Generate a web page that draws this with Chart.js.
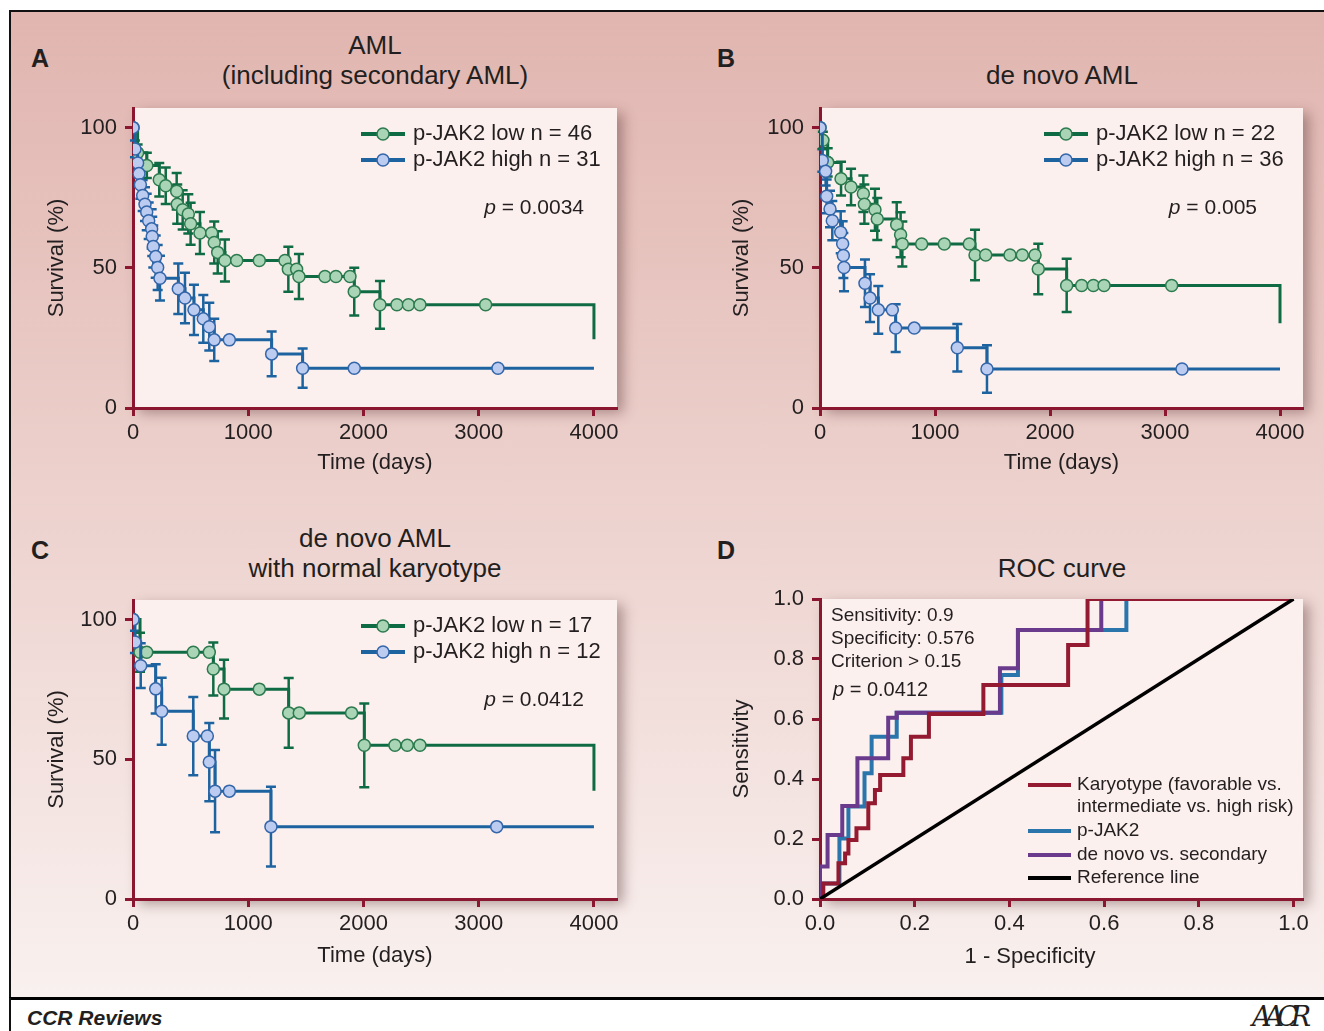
<!DOCTYPE html>
<html>
<head>
<meta charset="utf-8">
<script src="https://cdn.jsdelivr.net/npm/chart.js@4.4.1/dist/chart.umd.min.js"></script>
<style>
  html, body { margin: 0; padding: 0; background: #fff; overflow: hidden; }
  #fig { position: relative; width: 1324px; height: 1031px; overflow: hidden;
         font-family: 'Liberation Sans', Arial, sans-serif; color: #231f20; }
  #frame { position: absolute; left: 9px; top: 10px; width: 1340px; height: 987px;
           border-top: 2px solid #111; border-left: 2px solid #111;
           background: linear-gradient(to bottom, #e1b5b0 0%, #e8c6c1 30%, #eed5d1 55%, #f9f1ef 100%); }
  #footline { position: absolute; left: 9px; top: 997px; width: 1330px; height: 3px; background: #000; }
  #footleft { position: absolute; left: 9px; top: 998px; width: 2px; height: 40px; background: #111; }
  .cv { position: absolute; }
  .title { position: absolute; text-align: center; font-size: 26px; line-height: 30px; white-space: nowrap; }
  .letter { position: absolute; font-size: 25px; font-weight: bold; line-height: 28px; }
  #ccr { position: absolute; left: 27px; top: 1006px; font-size: 21px; line-height: 24px;
         font-weight: bold; font-style: italic; }
  #aacr { position: absolute; left: 1252px; top: 1003px; font-family: 'DejaVu Serif', serif;
          font-style: italic; font-size: 27px; line-height: 28px; letter-spacing: -7px; }
  #dxt { position: absolute; left: 880px; top: 943px; width: 300px; text-align: center;
         font-size: 22px; line-height: 26px; }
</style>
</head>
<body>
<div id="fig">
  <div id="frame"></div>
  <div id="footline"></div>
  <div id="footleft"></div>

  <div class="letter" style="left:31px; top:44px">A</div>
  <div class="letter" style="left:717px; top:44px">B</div>
  <div class="letter" style="left:31px; top:536px">C</div>
  <div class="letter" style="left:717px; top:536px">D</div>

  <div class="title" style="left:125px; top:30px; width:500px">AML<br>(including secondary AML)</div>
  <div class="title" style="left:812px; top:60px; width:500px">de novo AML</div>
  <div class="title" style="left:125px; top:523px; width:500px">de novo AML<br>with normal karyotype</div>
  <div class="title" style="left:812px; top:553px; width:500px">ROC curve</div>

  <canvas id="chartA" class="cv" width="680" height="400" style="left:0px; top:96px"></canvas>
  <canvas id="chartB" class="cv" width="638" height="400" style="left:686px; top:96px"></canvas>
  <canvas id="chartC" class="cv" width="680" height="400" style="left:0px; top:588px"></canvas>
  <canvas id="chartD" class="cv" width="638" height="400" style="left:686px; top:588px"></canvas>

  <div id="dxt">1 - Specificity</div>
  <div id="ccr">CCR Reviews</div>
  <div id="aacr">AACR</div>
</div>

<script>
// ---- data ----
// tick values
const kmXTicks = [0, 1000, 2000, 3000, 4000];
const kmYTicks = [0, 50, 100];
const rocTicks = [0, 0.2, 0.4, 0.6, 0.8, 1.0];

// A: AML incl. secondary (time in days, survival %, error half-width %)
const aLowT = [0, 40, 120, 228, 284, 379, 384, 431, 480, 500, 581, 683, 705, 735, 798, 900, 1096, 1319, 1348, 1420, 1440, 1666, 1761, 1883, 1920, 2143, 2290, 2390, 2490, 3060, 4000];
const aLowS = [100, 91, 86.5, 81.4, 79.3, 77.3, 72.7, 70.7, 69.2, 65.7, 62.4, 62.4, 59, 55.5, 52.6, 52.6, 52.6, 52.6, 49.5, 49.5, 46.9, 46.9, 46.9, 46.9, 41.5, 36.8, 36.8, 36.8, 36.8, 36.8, 24.5];
const aLowE = [0, 3, 4.5, 6, 6.5, 6.5, 7, 7, 7, 7.5, 7.5, 0, 7.5, 7.5, 7.5, 0, 0, 0, 8, 0, 8, 0, 0, 0, 8.5, 8.5, 0, 0, 0, 0, 0];
const aHighT = [0, 17, 40, 52, 64, 84, 104, 119, 136, 162, 167, 176, 197, 214, 234, 393, 451, 529, 610, 662, 705, 836, 1203, 1472, 1920, 3167, 4000];
const aHighS = [100, 92.4, 87.4, 83.6, 79.6, 75.8, 72.7, 69.9, 66.8, 63.9, 61.2, 57.6, 54.0, 50.1, 46.3, 42.5, 39.2, 35.0, 31.8, 29.0, 24.3, 24.3, 19.3, 14.2, 14.2, 14.2, 14.2];
const aHighE = [0, 3, 4, 4.5, 5, 5.5, 6, 6.5, 6.5, 7, 7, 7.5, 7.5, 8, 8, 9, 9, 9, 8.5, 8.5, 7.5, 0, 8, 7, 0, 0, 0];

// B: de novo AML
const bLowT = [0, 25, 67, 183, 270, 377, 386, 478, 498, 667, 701, 716, 884, 1081, 1298, 1348, 1441, 1652, 1759, 1870, 1898, 2145, 2275, 2377, 2470, 3058, 4000];
const bLowS = [100, 95.5, 87.6, 81.8, 78.8, 76.4, 72.7, 70.7, 67.4, 65.4, 61.8, 58.5, 58.5, 58.5, 58.5, 54.6, 54.6, 54.6, 54.6, 54.6, 49.6, 43.7, 43.7, 43.7, 43.7, 43.7, 30.2];
const bLowE = [0, 3, 5, 6, 6.5, 6.5, 7, 7.5, 7.5, 8, 8, 8, 0, 0, 0, 9, 0, 0, 0, 0, 9, 9.5, 0, 0, 0, 0, 0];
const bHighT = [0, 20, 49, 58, 87, 107, 180, 197, 203, 209, 391, 435, 507, 629, 658, 820, 1194, 1452, 3148, 4000];
const bHighS = [100, 88.3, 84.4, 75.5, 71.0, 66.8, 62.7, 58.6, 54.4, 50.1, 44.5, 39.2, 35.0, 35.0, 28.5, 28.5, 21.5, 13.9, 13.9, 13.9];
const bHighE = [0, 4, 5, 6, 6.5, 7, 7.5, 8, 8, 8.5, 8.5, 8.5, 8.5, 0, 8.5, 0, 8.5, 8.5, 0, 0];

// C: de novo AML with normal karyotype
const cLowT = [0, 61, 119, 523, 662, 697, 790, 1096, 1351, 1443, 1897, 2007, 2273, 2380, 2490, 4000];
const cLowS = [100, 88.3, 88.3, 88.3, 88.3, 82.3, 75.1, 75.1, 66.6, 66.6, 66.6, 55.0, 55.0, 55.0, 55.0, 38.7];
const cLowE = [0, 7, 0, 0, 0, 9.5, 10.5, 0, 12.5, 0, 0, 15, 0, 0, 0, 0];
const cHighT = [0, 17, 67, 197, 249, 523, 645, 662, 712, 836, 1197, 3156, 4000];
const cHighS = [100, 92, 83.5, 75.2, 67.2, 58.3, 58.3, 49.0, 38.6, 38.6, 25.9, 25.9, 25.9];
const cHighE = [0, 4, 8, 8.8, 12, 14, 0, 14, 14.7, 0, 14.3, 0, 0];

// D: ROC curves (1 - specificity, sensitivity)
const karyoX = [0, 0.007, 0.039, 0.053, 0.060, 0.077, 0.102, 0.116, 0.127, 0.176, 0.192, 0.230, 0.345, 0.524, 0.565, 1.0];
const karyoY = [0, 0.052, 0.119, 0.152, 0.197, 0.236, 0.319, 0.363, 0.413, 0.469, 0.541, 0.617, 0.713, 0.847, 1.0, 1.0];
const pjakX = [0, 0.002, 0.041, 0.060, 0.094, 0.109, 0.162, 0.383, 0.418, 0.647, 1.0];
const pjakY = [0, 0.052, 0.202, 0.308, 0.419, 0.541, 0.621, 0.747, 0.897, 1.0, 1.0];
const novoX = [0, 0, 0.016, 0.047, 0.079, 0.144, 0.162, 0.380, 0.418, 0.594, 1.0];
const novoY = [0, 0.108, 0.213, 0.310, 0.469, 0.604, 0.621, 0.769, 0.897, 1.0, 1.0];
const refX = [0, 1];
const refY = [0, 1];

// ---- styles ----
const FONT = "'Liberation Sans', Arial, sans-serif";
const TXT = '#231f20';
const AX = '#8a1630';
const GREEN = '#0f6b43', GREEN_FILL = '#a9d5b6', GREEN_EDGE = '#2c7a4e';
const BLUE = '#1d63a0', BLUE_FILL = '#bccbf0', BLUE_EDGE = '#3466aa';

Chart.defaults.font.family = FONT;
Chart.defaults.color = TXT;

const zip = (xs, ys) => xs.map((x, i) => ({ x: x, y: ys[i] }));

// light plot panel with a soft shadow
const plotBg = {
  id: 'plotBg',
  beforeDraw(chart) {
    const { ctx, chartArea: a } = chart;
    ctx.save();
    ctx.shadowColor = 'rgba(90,55,55,0.45)';
    ctx.shadowBlur = 12;
    ctx.shadowOffsetX = 6;
    ctx.shadowOffsetY = 5;
    ctx.fillStyle = '#fcf0ee';
    ctx.fillRect(a.left, a.top, a.right - a.left, a.bottom - a.top);
    ctx.restore();
  }
};

// vertical error bars with caps at event points
const errBars = {
  id: 'errBars',
  beforeDatasetsDraw(chart) {
    const { ctx, scales: { x, y } } = chart;
    chart.data.datasets.forEach(ds => {
      if (!ds.errors) return;
      ctx.save();
      ctx.strokeStyle = ds.borderColor;
      ctx.lineWidth = 2.5;
      ds.data.forEach((p, i) => {
        const e = ds.errors[i];
        if (!e) return;
        const px = x.getPixelForValue(p.x);
        const y1 = y.getPixelForValue(p.y + e);
        const y2 = y.getPixelForValue(p.y - e);
        ctx.beginPath();
        ctx.moveTo(px, y1); ctx.lineTo(px, y2);
        ctx.moveTo(px - 5, y1); ctx.lineTo(px + 5, y1);
        ctx.moveTo(px - 5, y2); ctx.lineTo(px + 5, y2);
        ctx.stroke();
      });
      ctx.restore();
    });
  }
};

// legend + annotation text inside the plot area
const notes = {
  id: 'notes',
  afterDraw(chart, args, o) {
    const { ctx, chartArea: a } = chart;
    ctx.save();
    ctx.textBaseline = 'middle';
    ctx.textAlign = 'left';
    (o.legend || []).forEach(it => {
      const y = a.top + it.y;
      if (it.ds !== undefined) {
        const ds = chart.data.datasets[it.ds];
        ctx.strokeStyle = ds.borderColor;
        ctx.lineWidth = o.lineWidth;
        ctx.beginPath();
        ctx.moveTo(a.left + o.x1, y);
        ctx.lineTo(a.left + o.x2, y);
        ctx.stroke();
        if (o.marker) {
          ctx.beginPath();
          ctx.arc(a.left + (o.x1 + o.x2) / 2, y, 6, 0, Math.PI * 2);
          ctx.fillStyle = ds.pointBackgroundColor;
          ctx.fill();
          ctx.lineWidth = 1.5;
          ctx.strokeStyle = ds.pointBorderColor;
          ctx.stroke();
        }
      }
      ctx.fillStyle = TXT;
      ctx.font = o.font;
      ctx.fillText(it.text, a.left + o.tx, y);
    });
    (o.texts || []).forEach(it => {
      const fonts = it.parts.map(p => (p.italic ? 'italic ' : '') + it.size + 'px ' + FONT);
      let w = 0;
      it.parts.forEach((p, i) => { ctx.font = fonts[i]; w += ctx.measureText(p.t).width; });
      let x = it.right !== undefined ? a.right - it.right - w : a.left + it.left;
      ctx.fillStyle = TXT;
      it.parts.forEach((p, i) => {
        ctx.font = fonts[i];
        ctx.fillText(p.t, x, a.top + it.y);
        x += ctx.measureText(p.t).width;
      });
    });
    ctx.restore();
  }
};

function axis(ticks, min, max, fmt, lay, horizontal, title) {
  const ax = {
    type: 'linear', min: min, max: max,
    border: { display: true, color: AX, width: 3 },
    grid: { drawOnChartArea: false, drawTicks: true, tickLength: 8, tickWidth: 3, tickColor: AX, color: AX },
    ticks: { font: { size: 22 }, color: TXT, padding: horizontal ? 4 : 8, maxRotation: 0, autoSkip: false, callback: fmt },
    afterBuildTicks: s => { s.ticks = ticks.map(v => ({ value: v })); }
  };
  if (horizontal) {
    ax.afterFit = s => { s.height = lay.xh; s.paddingLeft = 0; s.paddingRight = 0; };
    ax.title = title ? { display: true, text: title, font: { size: 22 }, color: TXT, padding: { top: 0, bottom: lay.xtp } } : { display: false };
  } else {
    ax.afterFit = s => { s.width = lay.yw; s.paddingTop = 0; s.paddingBottom = 0; };
    ax.title = { display: true, text: title, font: { size: 22 }, color: TXT, padding: { top: lay.ytp, bottom: 0 } };
  }
  return ax;
}

function kmChart(id, low, high, lay, pText) {
  const noEnd = ctx => (ctx.raw && ctx.raw.x >= 4000 ? 0 : 6);
  new Chart(document.getElementById(id), {
    type: 'line',
    data: {
      datasets: [
        { label: high.label, data: zip(high.t, high.s), errors: high.e,
          borderColor: BLUE, pointBackgroundColor: BLUE_FILL, pointBorderColor: BLUE_EDGE },
        { label: low.label, data: zip(low.t, low.s), errors: low.e,
          borderColor: GREEN, pointBackgroundColor: GREEN_FILL, pointBorderColor: GREEN_EDGE }
      ]
    },
    options: {
      responsive: false, animation: false, events: [],
      layout: { padding: { top: lay.top, right: lay.right, left: 0, bottom: 0 } },
      datasets: { line: { stepped: 'before', borderWidth: 3, pointRadius: noEnd, pointBorderWidth: 1.5 } },
      scales: {
        x: axis(kmXTicks, 0, 4200, v => v, lay, true, 'Time (days)'),
        y: axis(kmYTicks, 0, 107, v => v, lay, false, 'Survival (%)')
      },
      plugins: {
        legend: { display: false }, tooltip: { enabled: false },
        notes: {
          font: '22px ' + FONT, lineWidth: 4, marker: true,
          x1: lay.lx, x2: lay.lx + 44, tx: lay.lx + 52,
          legend: [
            { ds: 1, y: 26, text: low.label },
            { ds: 0, y: 52, text: high.label }
          ],
          texts: [{ right: lay.pr, y: 100, size: 21, parts: [{ t: 'p', italic: true }, { t: ' = ' + pText }] }]
        }
      }
    },
    plugins: [plotBg, errBars, notes]
  });
}

kmChart('chartA',
  { label: 'p-JAK2 low n = 46', t: aLowT, s: aLowS, e: aLowE },
  { label: 'p-JAK2 high n = 31', t: aHighT, s: aHighS, e: aHighE },
  { top: 12, right: 63, yw: 133, xh: 88, xtp: 20, ytp: 44, lx: 228, pr: 33 }, '0.0034');

kmChart('chartB',
  { label: 'p-JAK2 low n = 22', t: bLowT, s: bLowS, e: bLowE },
  { label: 'p-JAK2 high n = 36', t: bHighT, s: bHighS, e: bHighE },
  { top: 12, right: 21, yw: 134, xh: 88, xtp: 20, ytp: 43, lx: 224, pr: 46 }, '0.005');

kmChart('chartC',
  { label: 'p-JAK2 low n = 17', t: cLowT, s: cLowS, e: cLowE },
  { label: 'p-JAK2 high n = 12', t: cHighT, s: cHighS, e: cHighE },
  { top: 12, right: 63, yw: 133, xh: 89, xtp: 19, ytp: 44, lx: 228, pr: 33 }, '0.0412');

// ROC
const layD = { top: 11, right: 21, yw: 134, xh: 89, xtp: 19, ytp: 43 };
new Chart(document.getElementById('chartD'), {
  type: 'line',
  data: {
    datasets: [
      { label: 'Reference line', data: zip(refX, refY), borderColor: '#000', borderWidth: 3.5, stepped: false },
      { label: 'Karyotype', data: zip(karyoX, karyoY), borderColor: '#931a30' },
      { label: 'de novo vs. secondary', data: zip(novoX, novoY), borderColor: '#6a3a8c' },
      { label: 'p-JAK2', data: zip(pjakX, pjakY), borderColor: '#2a76ac' }
    ]
  },
  options: {
    responsive: false, animation: false, events: [],
    layout: { padding: { top: layD.top, right: layD.right, left: 0, bottom: 0 } },
    datasets: { line: { stepped: 'before', borderWidth: 4, pointRadius: 0 } },
    scales: {
      x: axis(rocTicks, 0, 1.02, v => v.toFixed(1), layD, true, null),
      y: axis(rocTicks, 0, 1.0, v => v.toFixed(1), layD, false, 'Sensitivity')
    },
    plugins: {
      legend: { display: false }, tooltip: { enabled: false },
      notes: {
        font: '19px ' + FONT, lineWidth: 4, marker: false,
        x1: 208, x2: 251, tx: 257,
        legend: [
          { ds: 1, y: 186, text: 'Karyotype (favorable vs.' },
          { y: 208, text: 'intermediate vs. high risk)' },
          { ds: 3, y: 232, text: 'p-JAK2' },
          { ds: 2, y: 256, text: 'de novo vs. secondary' },
          { ds: 0, y: 279, text: 'Reference line' }
        ],
        texts: [
          { left: 11, y: 17, size: 19, parts: [{ t: 'Sensitivity: 0.9' }] },
          { left: 11, y: 40, size: 19, parts: [{ t: 'Specificity: 0.576' }] },
          { left: 11, y: 63, size: 19, parts: [{ t: 'Criterion > 0.15' }] },
          { left: 13, y: 91, size: 20, parts: [{ t: 'p', italic: true }, { t: ' = 0.0412' }] }
        ]
      }
    }
  },
  plugins: [plotBg, notes]
});
</script>
</body>
</html>
